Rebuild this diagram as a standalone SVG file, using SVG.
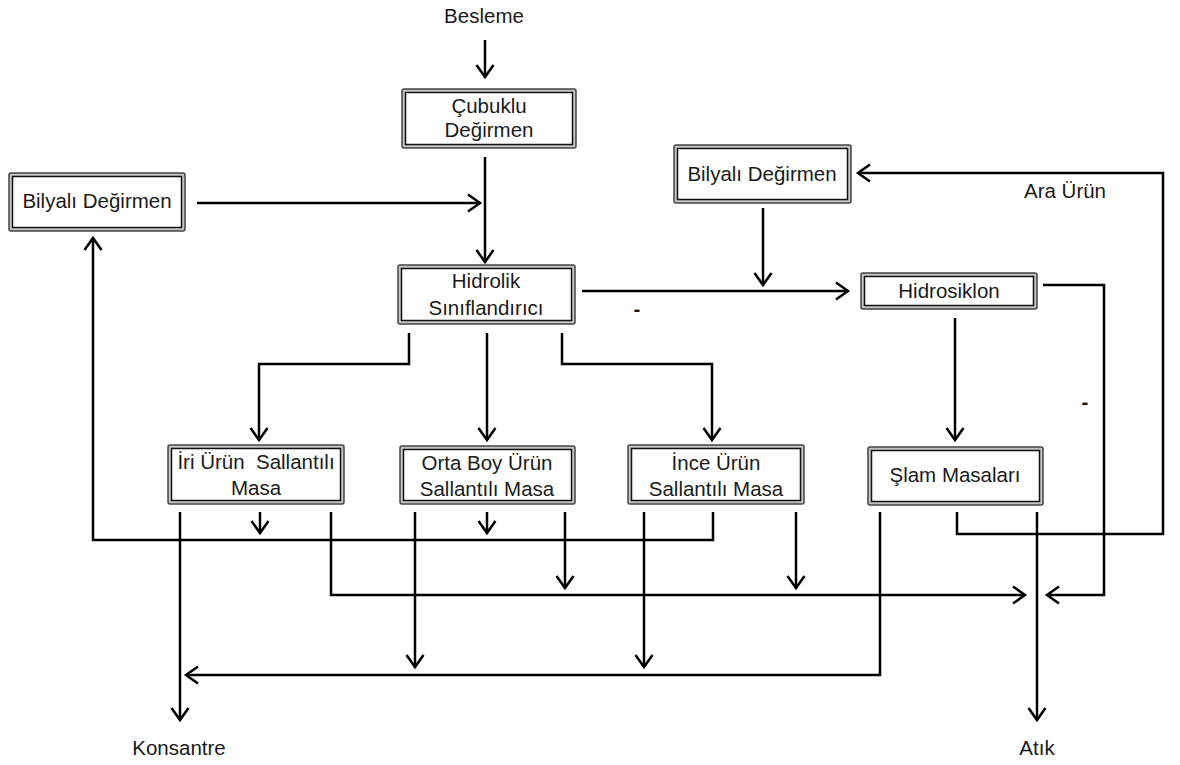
<svg xmlns="http://www.w3.org/2000/svg" width="1180" height="765" viewBox="0 0 1180 765">
<defs>
<marker id="arr" markerUnits="userSpaceOnUse" viewBox="0 0 20 20" markerWidth="20" markerHeight="20" refX="15" refY="10" orient="auto">
<path d="M3,1.5 L15,10 L3,18.5" fill="none" stroke="#000" stroke-width="2.5"/>
</marker>
</defs>
<style>
.bo{fill:#c4c4c4;stroke:#444;stroke-width:1.5}
.bi{fill:#fff;stroke:#111;stroke-width:1.5}
.t{font-family:"Liberation Sans",Arial,sans-serif;font-size:20.5px;fill:#1a1a1a;text-anchor:middle}
.d{font-weight:bold}
.c{fill:none;stroke:#000;stroke-width:2.5}
.a{marker-end:url(#arr)}
</style>
<rect width="1180" height="765" fill="#fff"/>
<g id="connectors">
<path class="c a" d="M485,40 V77"/>
<path class="c a" d="M485,157 V262"/>
<path class="c a" d="M197,203 H480"/>
<path class="c a" d="M582,291 H848"/>
<path class="c a" d="M763,208 V285"/>
<path class="c a" d="M957,512 V534 H1163 V173 H858"/>
<path class="c a" d="M1043,285 H1104 V595 H1047"/>
<path class="c a" d="M955,318 V440"/>
<path class="c a" d="M409,333 V364 H259 V440"/>
<path class="c a" d="M487,333 V440"/>
<path class="c a" d="M562,333 V364 H712 V440"/>
<path class="c a" d="M180,512 V720"/>
<path class="c a" d="M260,512 V533"/>
<path class="c a" d="M331,512 V595 H1025"/>
<path class="c a" d="M415,512 V667"/>
<path class="c a" d="M487,512 V533"/>
<path class="c a" d="M565,512 V588"/>
<path class="c a" d="M644,512 V667"/>
<path class="c a" d="M713,512 V540 H93 V238"/>
<path class="c a" d="M796,512 V588"/>
<path class="c a" d="M880,512 V675 H186"/>
<path class="c a" d="M1037,512 V720"/>
</g>
<g id="besleme"><text class="t" x="484" y="23">Besleme</text></g>
<g id="cubuklu">
<rect class="bo" x="402" y="89" width="174" height="59" rx="2"/>
<rect class="bi" x="405.5" y="92.5" width="167" height="52"/>
<text class="t" x="489" y="113">Çubuklu</text>
<text class="t" x="489" y="137">Değirmen</text>
</g>
<g id="bilyali-sol">
<rect class="bo" x="9" y="173" width="176" height="58" rx="2"/>
<rect class="bi" x="12.5" y="176.5" width="169" height="51"/>
<text class="t" x="97" y="208">Bilyalı Değirmen</text>
</g>
<g id="bilyali-sag">
<rect class="bo" x="674" y="145" width="177" height="58" rx="2"/>
<rect class="bi" x="677.5" y="148.5" width="170" height="51"/>
<text class="t" x="762" y="181">Bilyalı Değirmen</text>
</g>
<g id="ara-urun"><text class="t" x="1065" y="198">Ara Ürün</text></g>
<g id="hidrolik">
<rect class="bo" x="398" y="265" width="177" height="59" rx="2"/>
<rect class="bi" x="401.5" y="268.5" width="170" height="52"/>
<text class="t" x="486" y="288">Hidrolik</text>
<text class="t" x="486" y="315">Sınıflandırıcı</text>
</g>
<g id="dash1"><text class="t d" x="637" y="316">-</text></g>
<g id="hidrosiklon">
<rect class="bo" x="861" y="273" width="176" height="36" rx="2"/>
<rect class="bi" x="864.5" y="276.5" width="169" height="29"/>
<text class="t" x="949" y="298">Hidrosiklon</text>
</g>
<g id="dash2"><text class="t d" x="1085" y="409">-</text></g>
<g id="iri">
<rect class="bo" x="168" y="445" width="176" height="59" rx="2"/>
<rect class="bi" x="171.5" y="448.5" width="169" height="52"/>
<text class="t" x="256" y="469" xml:space="preserve">İri Ürün  Sallantılı</text>
<text class="t" x="256" y="495">Masa</text>
</g>
<g id="orta">
<rect class="bo" x="400" y="446" width="175" height="58" rx="2"/>
<rect class="bi" x="403.5" y="449.5" width="168" height="51"/>
<text class="t" x="487" y="470">Orta Boy Ürün</text>
<text class="t" x="487" y="496">Sallantılı Masa</text>
</g>
<g id="ince">
<rect class="bo" x="628" y="445" width="176" height="59" rx="2"/>
<rect class="bi" x="631.5" y="448.5" width="169" height="52"/>
<text class="t" x="716" y="470">İnce Ürün</text>
<text class="t" x="716" y="496">Sallantılı Masa</text>
</g>
<g id="slam">
<rect class="bo" x="868" y="447" width="175" height="58" rx="2"/>
<rect class="bi" x="871.5" y="450.5" width="168" height="51"/>
<text class="t" x="955" y="482">Şlam Masaları</text>
</g>
<g id="konsantre"><text class="t" x="179" y="755">Konsantre</text></g>
<g id="atik"><text class="t" x="1037" y="755">Atık</text></g>
</svg>
